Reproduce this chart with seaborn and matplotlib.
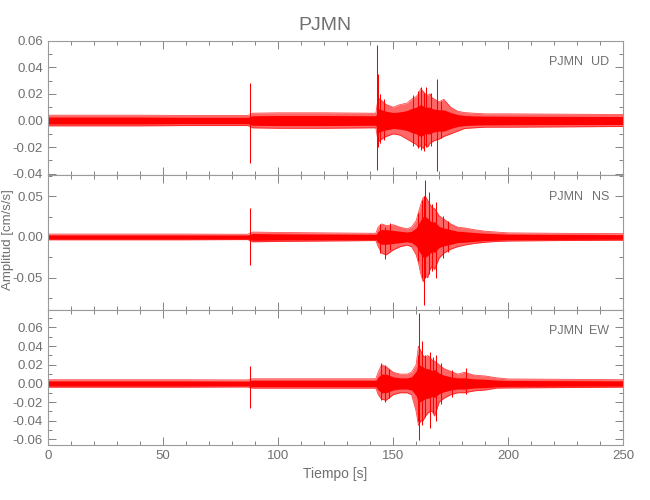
import matplotlib
matplotlib.use("Agg")
import matplotlib.pyplot as plt
import seaborn as sns
import numpy as np
import pandas as pd
from matplotlib.ticker import MultipleLocator, FormatStrFormatter

STATION = "PJMN"
COMPONENTS = ["UD", "NS", "EW"]

t_knots = [0, 20, 40, 60, 80, 87, 89, 100, 120, 140, 142.5, 143.5, 145, 147, 150,
           153, 156, 158, 160, 161, 162, 163, 164, 165, 166, 167, 168, 170, 172,
           175, 178, 181, 185, 190, 195, 200, 220, 250]

# UD component: peak envelope (upper / lower) and dense core half-width
ud_hi = [0.004, 0.004, 0.004, 0.0038, 0.0038, 0.0038, 0.0055, 0.0058, 0.0058, 0.0055,
         0.0055, 0.017, 0.015, 0.012, 0.010, 0.012, 0.013, 0.016, 0.018, 0.020,
         0.024, 0.022, 0.020, 0.019, 0.020, 0.017, 0.016, 0.014, 0.016, 0.010,
         0.007, 0.006, 0.0055, 0.005, 0.005, 0.005, 0.0048, 0.0045]
ud_lo = [-0.004, -0.004, -0.004, -0.0038, -0.0038, -0.0038, -0.0055, -0.0058, -0.0058, -0.0055,
         -0.0055, -0.016, -0.014, -0.012, -0.010, -0.011, -0.014, -0.016, -0.018, -0.020,
         -0.019, -0.021, -0.018, -0.020, -0.017, -0.016, -0.015, -0.014, -0.012, -0.010,
         -0.008, -0.006, -0.0055, -0.005, -0.005, -0.005, -0.0048, -0.0045]
ud_core = [0.0026, 0.0026, 0.0026, 0.0024, 0.0024, 0.0024, 0.0036, 0.0038, 0.0038, 0.0036,
           0.0036, 0.009, 0.008, 0.007, 0.006, 0.0065, 0.0075, 0.009, 0.010, 0.011,
           0.012, 0.011, 0.010, 0.010, 0.010, 0.009, 0.0085, 0.008, 0.008, 0.006,
           0.0045, 0.0038, 0.0035, 0.0033, 0.0033, 0.0032, 0.0031, 0.003]

# NS component
ns_hi = [0.0035, 0.0035, 0.0035, 0.0035, 0.0033, 0.0033, 0.006, 0.0055, 0.005, 0.0045,
         0.0045, 0.012, 0.016, 0.014, 0.015, 0.012, 0.010, 0.012, 0.020, 0.030,
         0.040, 0.048, 0.050, 0.045, 0.040, 0.036, 0.035, 0.026, 0.022, 0.016,
         0.012, 0.011, 0.009, 0.007, 0.006, 0.005, 0.0045, 0.004]
ns_lo = [-0.0035, -0.0035, -0.0035, -0.0035, -0.0033, -0.0033, -0.006, -0.0055, -0.005, -0.0045,
         -0.0045, -0.012, -0.020, -0.022, -0.016, -0.012, -0.010, -0.012, -0.022, -0.032,
         -0.045, -0.055, -0.048, -0.050, -0.040, -0.036, -0.040, -0.026, -0.020, -0.015,
         -0.012, -0.010, -0.008, -0.0065, -0.0055, -0.005, -0.0045, -0.004]
ns_core = [0.0024, 0.0024, 0.0024, 0.0024, 0.0023, 0.0023, 0.0042, 0.0038, 0.0035, 0.0032,
           0.0032, 0.007, 0.009, 0.009, 0.008, 0.007, 0.006, 0.007, 0.011, 0.016,
           0.021, 0.025, 0.025, 0.023, 0.020, 0.018, 0.019, 0.013, 0.011, 0.009,
           0.007, 0.0065, 0.0055, 0.0045, 0.004, 0.0034, 0.0031, 0.0028]

# EW component
ew_hi = [0.004, 0.004, 0.004, 0.004, 0.0038, 0.0038, 0.005, 0.005, 0.005, 0.005,
         0.005, 0.012, 0.020, 0.018, 0.012, 0.010, 0.010, 0.012, 0.020, 0.040,
         0.035, 0.030, 0.028, 0.030, 0.028, 0.025, 0.024, 0.020, 0.016, 0.013,
         0.010, 0.012, 0.009, 0.008, 0.006, 0.0048, 0.0045, 0.004]
ew_lo = [-0.004, -0.004, -0.004, -0.004, -0.0038, -0.0038, -0.005, -0.005, -0.005, -0.005,
         -0.005, -0.012, -0.017, -0.018, -0.012, -0.010, -0.010, -0.012, -0.030, -0.045,
         -0.040, -0.040, -0.035, -0.032, -0.030, -0.030, -0.035, -0.020, -0.016, -0.012,
         -0.010, -0.010, -0.008, -0.007, -0.005, -0.0048, -0.0045, -0.004]
ew_core = [0.0027, 0.0027, 0.0027, 0.0027, 0.0025, 0.0025, 0.0034, 0.0034, 0.0034, 0.0034,
           0.0034, 0.007, 0.010, 0.010, 0.007, 0.006, 0.006, 0.007, 0.013, 0.021,
           0.019, 0.018, 0.016, 0.016, 0.015, 0.014, 0.015, 0.011, 0.009, 0.007,
           0.006, 0.006, 0.005, 0.0045, 0.0036, 0.0032, 0.003, 0.0028]

# isolated spikes (time, max, min)
ud_spike_t = [87.8, 142.8, 143.3, 144.4, 146.0, 158.5, 160.6, 162.1, 163.4, 164.2,
              166.3, 169.2, 171.0]
ud_spike_hi = [0.028, 0.057, 0.035, 0.020, 0.016, 0.019, 0.022, 0.025, 0.021, 0.025,
               0.021, 0.031, 0.015]
ud_spike_lo = [-0.032, -0.037, -0.020, -0.017, -0.015, -0.019, -0.021, -0.022, -0.023, -0.020,
               -0.019, -0.038, -0.013]

ns_spike_t = [87.8, 144.2, 146.4, 148.6, 160.8, 162.4, 163.2, 164.0, 165.5, 166.8,
              168.6, 171.5, 174.0]
ns_spike_hi = [0.035, 0.016, 0.012, 0.017, 0.030, 0.045, 0.050, 0.070, 0.055, 0.040,
               0.043, 0.026, 0.020]
ns_spike_lo = [-0.034, -0.020, -0.027, -0.016, -0.030, -0.050, -0.084, -0.050, -0.045, -0.042,
               -0.050, -0.026, -0.018]

ew_spike_t = [87.8, 144.8, 146.5, 148.2, 160.6, 161.2, 162.5, 164.0, 166.0, 167.2,
              168.5, 171.0, 175.6, 181.5]
ew_spike_hi = [0.0185, 0.022, 0.020, 0.016, 0.030, 0.075, 0.045, 0.030, 0.034, 0.028,
               0.030, 0.022, 0.014, 0.017]
ew_spike_lo = [-0.026, -0.018, -0.020, -0.016, -0.040, -0.061, -0.045, -0.036, -0.048, -0.032,
               -0.040, -0.022, -0.014, -0.011]

y_limits = [(-0.0413, 0.06), (-0.090, 0.0755), (-0.066, 0.0785)]
y_major = [0.02, 0.05, 0.02]
y_minor = [0.01, 0.025, 0.01]

GREY = "#707070"
RED = "#ff0000"

sns.set_style("ticks")
plt.rcParams["font.family"] = ["Liberation Sans", "DejaVu Sans"]
plt.rcParams.update({
    "xtick.direction": "in", "ytick.direction": "in",
    "xtick.color": GREY, "ytick.color": GREY,
    "xtick.labelcolor": GREY, "ytick.labelcolor": GREY,
    "axes.edgecolor": "#9a9a9a", "axes.linewidth": 0.8,
})

traces = [
    (ud_hi, ud_lo, ud_core, ud_spike_t, ud_spike_hi, ud_spike_lo),
    (ns_hi, ns_lo, ns_core, ns_spike_t, ns_spike_hi, ns_spike_lo),
    (ew_hi, ew_lo, ew_core, ew_spike_t, ew_spike_hi, ew_spike_lo),
]

fig, axes = plt.subplots(3, 1, figsize=(6.5, 5), dpi=100, sharex=True)
fig.subplots_adjust(left=0.0735, right=0.959, top=0.9186, bottom=0.11, hspace=0)

for i, ax in enumerate(axes):
    hi, lo, core, sp_t, sp_hi, sp_lo = traces[i]
    df = pd.DataFrame({"t": t_knots, "hi": hi, "lo": lo,
                       "core": core, "ncore": [-c for c in core]})
    ax.fill_between(df["t"], df["lo"], df["hi"], color=RED, alpha=0.6, lw=0)
    ax.fill_between(df["t"], df["ncore"], df["core"], color=RED, lw=0)
    sns.lineplot(data=df, x="t", y="hi", ax=ax, color=RED, lw=0.6, alpha=0.7)
    sns.lineplot(data=df, x="t", y="lo", ax=ax, color=RED, lw=0.6, alpha=0.7)
    ax.vlines(sp_t, sp_lo, sp_hi, color=RED, lw=0.75)

    ax.set_xlim(0, 250)
    ax.set_ylim(*y_limits[i])
    ax.xaxis.set_major_locator(MultipleLocator(50))
    ax.xaxis.set_minor_locator(MultipleLocator(10))
    ax.yaxis.set_major_locator(MultipleLocator(y_major[i]))
    ax.yaxis.set_minor_locator(MultipleLocator(y_minor[i]))
    ax.tick_params(which="both", top=True, right=True, labelsize=9.5)
    ax.tick_params(which="major", length=6, width=0.6)
    ax.tick_params(which="minor", length=3, width=0.6)
    ax.yaxis.set_major_formatter(FormatStrFormatter("%.2f"))
    ax.set_xlabel("")
    ax.set_ylabel("")
    ax.text(0.930, 0.843, STATION, transform=ax.transAxes, ha="right", va="center",
            fontsize=9, color=GREY)
    ax.text(0.975, 0.843, COMPONENTS[i], transform=ax.transAxes, ha="right", va="center",
            fontsize=9, color=GREY)

axes[-1].set_xlabel("Tiempo [s]", fontsize=10, color=GREY, labelpad=4)
fig.text(0.012, 0.52, "Amplitud [cm/s/s]", rotation=90, ha="center", va="center",
         fontsize=9.5, color=GREY)
fig.suptitle(STATION, y=0.965, fontsize=14, color=GREY)

fig.savefig("out.png", dpi=100)
